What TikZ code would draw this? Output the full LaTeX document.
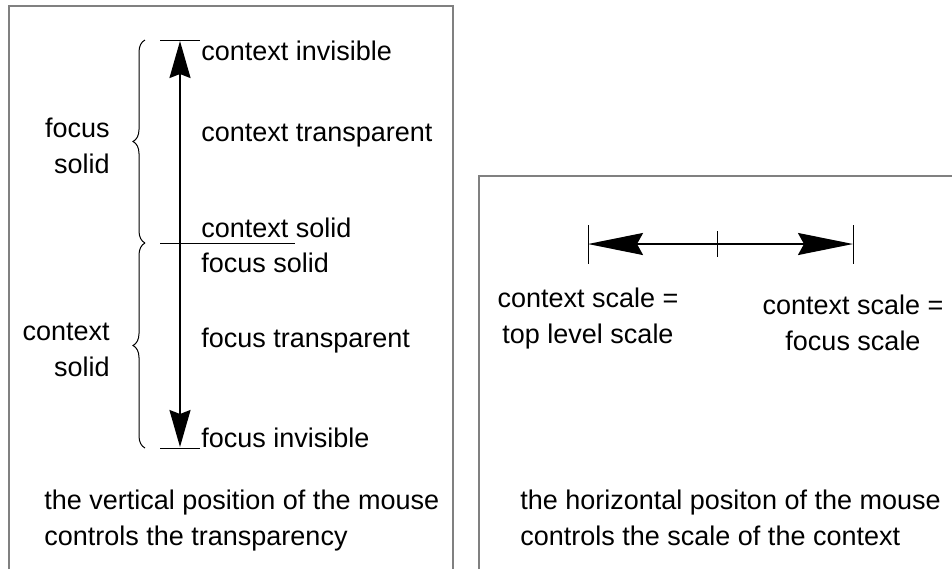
\documentclass[tikz,border=0pt]{standalone}
\usepackage{fontspec}
\setmainfont{Liberation Sans}
\usetikzlibrary{arrows.meta,decorations.pathreplacing}
\definecolor{ink}{HTML}{000000}
\definecolor{framegray}{HTML}{808080}
\tikzset{
  panel/.style={draw=framegray,line width=1pt},
  vslider/.style={{Stealth[length=18.5pt,width=10.5pt,inset=2pt]}-{Stealth[length=18.5pt,width=10.5pt,inset=2pt]},
    draw=ink,line width=1pt,shorten <=0.5pt,shorten >=0.5pt},
  hslider/.style={{Stealth[length=27.5pt,width=11pt,inset=3pt]}-{Stealth[length=27.5pt,width=11pt,inset=3pt]},
    draw=ink,line width=1pt},
  tick/.style={draw=ink,line width=.5pt},
  bracket/.style={draw=ink,line width=.5pt,decorate,decoration={brace,amplitude=6pt}},
  txt/.style={font=\fontsize{13.5}{18}\selectfont,inner sep=0pt,text=ink}
}

\begin{document}
\begin{tikzpicture}[x=.5pt,y=-.5pt]
  \useasboundingbox (0,0) rectangle (952,569);

  % Left panel: vertical slider for transparency.
  \draw[panel] (9,569) -- (9,6) -- (453,6) -- (453,569);
  \coordinate (vtop) at (180,40);
  \coordinate (vmid) at (180,243);
  \coordinate (vbot) at (180,448);
  \draw[tick] (160,40) -- (200,40);
  \draw[tick] (160,243) -- (295,243);
  \draw[tick] (160,448) -- (200,448);
  \draw[vslider] (vbot) -- (vtop);
  \draw[bracket] (145,243) -- (145,40);
  \draw[bracket] (145,448) -- (145,243);

  \node[txt,anchor=base west] (cinv) at (201,60) {context invisible};
  \node[txt,anchor=base west] (ctrans) at (201,141) {context transparent};
  \node[txt,anchor=base west] (csolid) at (201,237) {context solid};
  \node[txt,anchor=base west] (fsolid) at (201,272) {focus solid};
  \node[txt,anchor=base west] (ftrans) at (201,347) {focus transparent};
  \node[txt,anchor=base west] (finv) at (201,447) {focus invisible};
  \node[txt,anchor=base east,align=right] (fsol) at (110,173) {focus\\solid};
  \node[txt,anchor=base east,align=right] (csol) at (110,376) {context\\solid};
  \node[txt,anchor=base west,align=left] (vnote) at (44,545)
    {the vertical position of the mouse\\controls the transparency};

  % Right panel: horizontal slider for scale.
  \draw[panel] (479,569) -- (479,176) -- (953,176);
  \coordinate (hleft) at (588,244);
  \coordinate (hmid) at (717,244);
  \coordinate (hright) at (853,244);
  \draw[tick] (588,225) -- (588,264);
  \draw[tick] (717,231) -- (717,257);
  \draw[tick] (853,225) -- (853,264);
  \draw[hslider] (hleft) -- (hright);

  \node[txt,anchor=base,align=center] (topscale) at (588,343)
    {context scale =\\top level scale};
  \node[txt,anchor=base,align=center] (focscale) at (853,350)
    {context scale =\\focus scale};
  \node[txt,anchor=base west,align=left] (hnote) at (520,545)
    {the horizontal positon of the mouse\\controls the scale of the context};
\end{tikzpicture}
\end{document}
